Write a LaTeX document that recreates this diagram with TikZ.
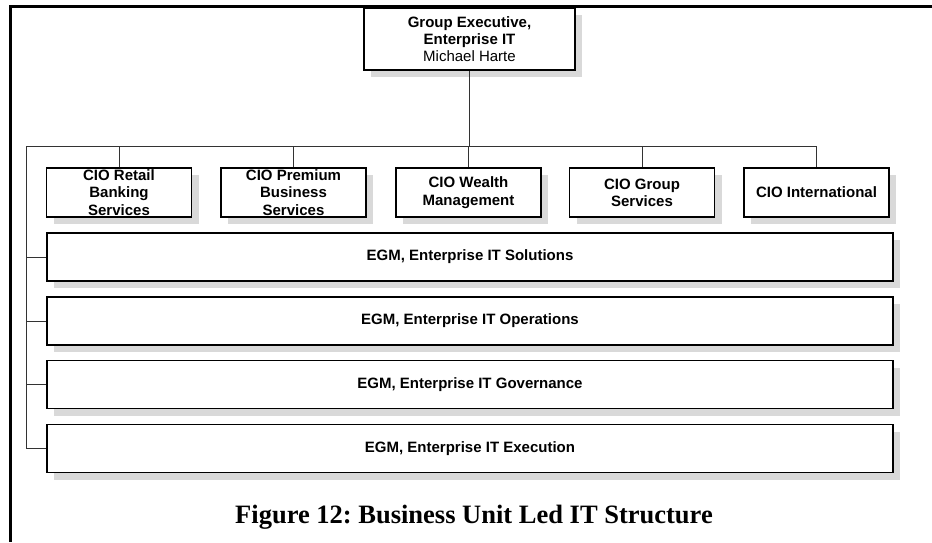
\documentclass[tikz,border=0pt]{standalone}
\usepackage{fontspec}
\setmainfont{Liberation Sans}
\newfontfamily\capfont{Liberation Serif}
\usetikzlibrary{shadows}
\frenchspacing
\definecolor{shadowgray}{HTML}{D9D9D9}
\definecolor{linegray}{HTML}{333333}
\tikzset{
  orgbox/.style={draw=black, line width=1.1pt, fill=white, inner sep=0pt, align=center,
    font=\fontsize{15}{17.3}\selectfont\bfseries,
    drop shadow={shadow xshift=7pt, shadow yshift=-7pt, fill=shadowgray, opacity=1}},
  ciobox/.style={orgbox, minimum width=145pt, minimum height=49pt},
  egmbox/.style={orgbox, minimum width=846pt, minimum height=48pt},
  link/.style={draw=linegray, line width=0.8pt},
  frame/.style={draw=black, line width=2.6pt}
}
\begin{document}
\begin{tikzpicture}[x=1pt, y=-1pt]
\useasboundingbox (0,0) rectangle (932,542);

% page frame (top and left edges)
\draw[frame] (932,6.3) -- (10.7,6.3) -- (10.7,542);

% head of the unit
\node[orgbox, minimum width=211pt, minimum height=62pt] (top) at (469.5,39)
  {Group Executive,\\Enterprise IT\\\mdseries Michael Harte};

% CIO row
\node[ciobox] (cio1) at (119,192.5)   {CIO Retail\\Banking\\Services};
\node[ciobox] (cio2) at (293.5,192.5) {CIO Premium\\Business\\Services};
\node[ciobox] (cio3) at (468.5,192.5) {CIO Wealth\\Management};
\node[ciobox] (cio4) at (642,192.5)   {CIO Group\\Services};
\node[ciobox] (cio5) at (816.5,192.5) {CIO International};

% EGM rows
\node[egmbox] (egm1) at (470,257)   {EGM, Enterprise IT Solutions};
\node[egmbox] (egm2) at (470,321)   {EGM, Enterprise IT Operations};
\node[egmbox] (egm3) at (470,384.5) {EGM, Enterprise IT Governance};
\node[egmbox] (egm4) at (470,448.5) {EGM, Enterprise IT Execution};

% reporting lines
\coordinate (busL) at (26,146);
\draw[link] (egm4.west) -| (busL) -| (cio5.north);
\draw[link] (top.south) -- (top.south |- busL);
\foreach \n in {1,2,3,4}
  \draw[link] (cio\n.north) -- (cio\n.north |- busL);
\foreach \n in {1,2,3}
  \draw[link] (egm\n.west) -- (egm\n.west -| busL);

% caption
\node[anchor=base, inner sep=0pt, font=\capfont\fontsize{26.5}{30}\selectfont\bfseries]
  (caption) at (474,523) {Figure 12: Business Unit Led IT Structure};
\end{tikzpicture}
\end{document}
